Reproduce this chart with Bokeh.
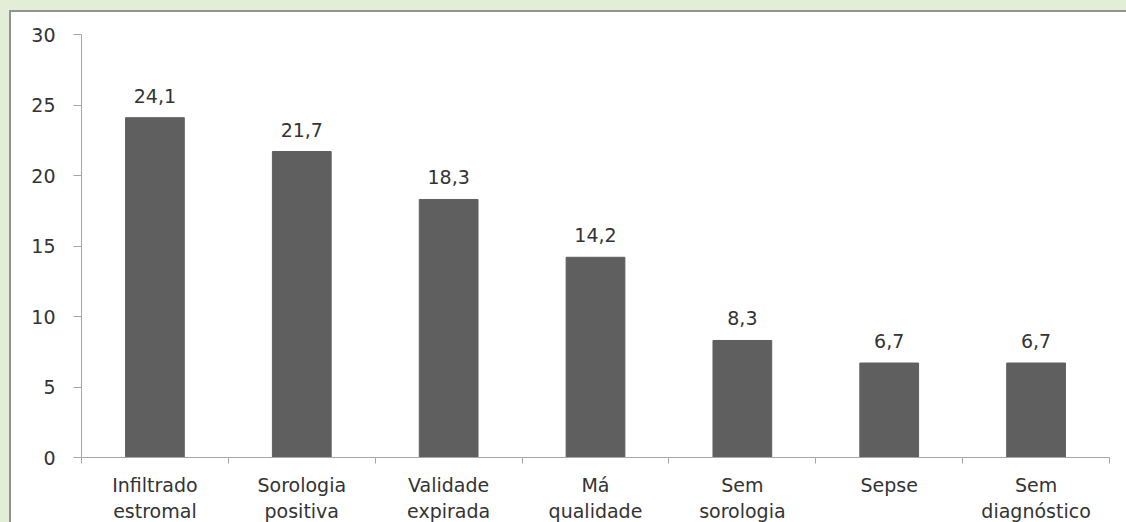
from bokeh.plotting import figure
from bokeh.models import ColumnDataSource, FixedTicker, Range1d
from bokeh.embed import file_html
from bokeh.resources import INLINE
from bokeh.core.properties import value

categories = ["Infiltrado\nestromal", "Sorologia\npositiva", "Validade\nexpirada",
              "Má\nqualidade", "Sem\nsorologia", "Sepse", "Sem\ndiagnóstico"]
values = [24.1, 21.7, 18.3, 14.2, 8.3, 6.7, 6.7]
value_labels = ["24,1", "21,7", "18,3", "14,2", "8,3", "6,7", "6,7"]
y_ticks = [0, 5, 10, 15, 20, 25, 30]

FONT = "DejaVu Sans"
TXT = "#333333"
AX = "#a6a6a6"
FS = "19px"

n = len(categories)
xs = [i + 0.5 for i in range(n)]
src = ColumnDataSource(dict(x=xs, top=values, label=value_labels))

p = figure(width=1117, height=512, x_range=Range1d(0, n), y_range=Range1d(0, 30),
           output_backend="svg", toolbar_location=None,
           min_border_left=70, min_border_right=19, min_border_top=22, min_border_bottom=65)
p.margin = (10, 0, 0, 9)
p.styles = {"border-left": "2px solid #939393", "border-top": "2px solid #939393",
            "background-color": "white"}
p.background_fill_color = "white"
p.border_fill_color = "white"
p.outline_line_color = None
p.xgrid.visible = False
p.ygrid.visible = False

p.vbar(x="x", top="top", width=0.4, bottom=0, source=src,
       fill_color="#5f5f5f", line_color="#5f5f5f")
p.text(x="x", y="top", text="label", source=src, y_offset=-22,
       text_align="center", text_baseline="alphabetic",
       text_font=value(FONT), text_font_size=FS, text_color=TXT)

# y axis
ya = p.yaxis[0]
ya.ticker = FixedTicker(ticks=y_ticks)
ya.axis_line_color = AX
ya.major_tick_line_color = AX
ya.major_tick_in = 0
ya.major_tick_out = 8
ya.minor_tick_line_color = None
ya.major_label_standoff = 18
ya.major_label_text_font = FONT
ya.major_label_text_font_size = FS
ya.major_label_text_color = TXT

# x axis: labels at centres, tick marks at category boundaries
xa = p.xaxis[0]
xa.ticker = FixedTicker(ticks=xs, minor_ticks=list(range(n + 1)))
xa.major_label_overrides = {x: c for x, c in zip(xs, categories)}
xa.axis_line_color = AX
xa.major_tick_line_color = None
xa.major_tick_in = 0
xa.major_tick_out = 0
xa.minor_tick_line_color = AX
xa.minor_tick_in = 0
xa.minor_tick_out = 6
xa.major_label_standoff = 10
xa.major_label_text_font = FONT
xa.major_label_text_font_size = FS
xa.major_label_text_color = TXT

html = file_html(p, INLINE)
i = html.rfind("<body>")
html = html[:i] + '<body style="background-color:#e3eed9;">' + html[i + len("<body>"):]
open("out.html", "w").write(html)
